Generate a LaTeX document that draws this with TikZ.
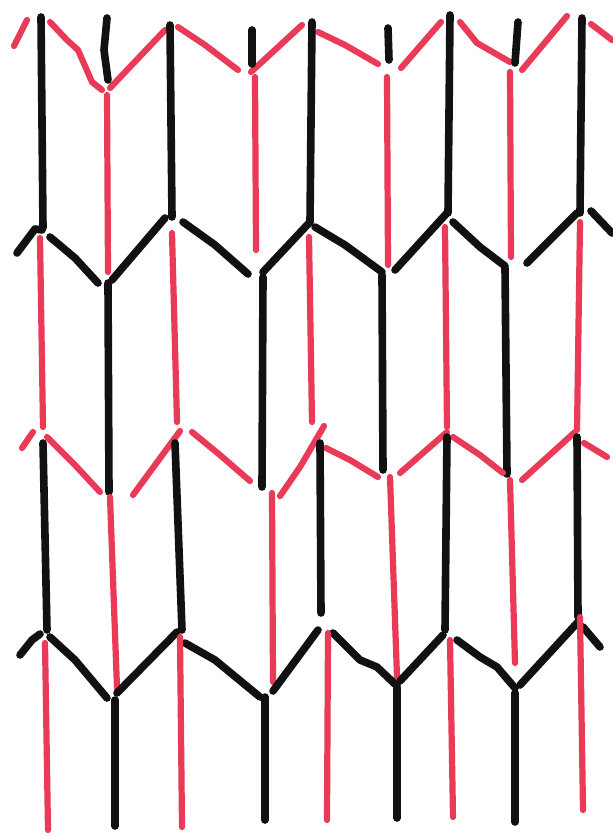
\documentclass[tikz,border=0pt]{standalone}
\usepackage{tikz}
\usepackage{xcolor}
\definecolor{strandRed}{HTML}{E93A58}
\definecolor{strandBlack}{HTML}{111111}
\tikzset{
    blackstrand/.style={draw=strandBlack, line width=6.5pt, line cap=round, line join=round},
    redstrand/.style={draw=strandRed, line width=5.3pt, line cap=round, line join=round}
}

\begin{document}
\begin{tikzpicture}[x=0.03cm,y=-0.03cm]
    \useasboundingbox (0,0) rectangle (612,838);

    % Row 1: red zigzag on top
    \draw[redstrand] (14,46) -- (27,20);
    \draw[redstrand] (50,22) -- (67,40) -- (78,50) -- (92,82) -- (102,90);
    \draw[redstrand] (110,88) -- (165,30);
    \draw[redstrand] (178,27) -- (205,45) -- (238,70);
    \draw[redstrand] (251,72) -- (302,25);
    \draw[redstrand] (318,32) -- (345,45) -- (378,64);
    \draw[redstrand] (401,68) -- (441,22);
    \draw[redstrand] (460,22) -- (477,43) -- (510,62);
    \draw[redstrand] (522,70) -- (567,16);
    \draw[redstrand] (591,24) -- (612,40);

    % black stubs above the red tips
    \draw[blackstrand] (107,18) -- (104,50) -- (108,80);
    \draw[blackstrand] (252,30) -- (252,64);
    \draw[blackstrand] (388,28) -- (389,60);
    \draw[blackstrand] (518,22) -- (515,63);

    % Row 1 verticals
    \draw[blackstrand] (41,17) -- (43,228);
    \draw[blackstrand] (170,25) -- (172,217);
    \draw[blackstrand] (312,22) -- (310,222);
    \draw[blackstrand] (450,15) -- (448,213);
    \draw[blackstrand] (582,18) -- (580,213);
    \draw[redstrand] (107,95) -- (108,272);
    \draw[redstrand] (255,77) -- (256,250);
    \draw[redstrand] (387,77) -- (388,265);
    \draw[redstrand] (510,72) -- (511,257);

    % Row 2: black zigzag
    \draw[blackstrand] (17,253) -- (35,229) -- (42,230);
    \draw[blackstrand] (50,237) -- (75,258) -- (98,283);
    \draw[blackstrand] (112,280) -- (165,218);
    \draw[blackstrand] (183,222) -- (215,245) -- (248,274);
    \draw[blackstrand] (263,272) -- (310,222);
    \draw[blackstrand] (315,227) -- (345,245) -- (382,272);
    \draw[blackstrand] (395,270) -- (447,213);
    \draw[blackstrand] (453,222) -- (480,247) -- (505,266);
    \draw[blackstrand] (527,263) -- (577,213);
    \draw[blackstrand] (591,211) -- (612,233);

    % Row 2 verticals
    \draw[blackstrand] (108,283) -- (109,492);
    \draw[blackstrand] (263,277) -- (262,487);
    \draw[blackstrand] (382,275) -- (383,470);
    \draw[blackstrand] (505,268) -- (507,474);
    \draw[redstrand] (40,238) -- (43,427);
    \draw[redstrand] (172,233) -- (177,422);
    \draw[redstrand] (309,237) -- (312,422);
    \draw[redstrand] (445,227) -- (447,427);
    \draw[redstrand] (580,222) -- (577,430);

    % Row 3: red zigzag
    \draw[redstrand] (22,448) -- (33,432);
    \draw[redstrand] (47,437) -- (75,465) -- (100,492);
    \draw[redstrand] (133,495) -- (180,431);
    \draw[redstrand] (192,432) -- (220,455) -- (250,481);
    \draw[redstrand] (280,496) -- (300,467) -- (324,426);
    \draw[redstrand] (326,448) -- (350,460) -- (378,477);
    \draw[redstrand] (400,473) -- (447,432);
    \draw[redstrand] (453,437) -- (480,455) -- (503,473);
    \draw[redstrand] (522,480) -- (575,432);
    \draw[redstrand] (584,443) -- (607,457);

    % Row 3 verticals
    \draw[blackstrand] (43,443) -- (47,630);
    \draw[blackstrand] (175,443) -- (182,630);
    \draw[blackstrand] (320,443) -- (321,613);
    \draw[blackstrand] (447,437) -- (445,630);
    \draw[blackstrand] (577,437) -- (578,617);
    \draw[redstrand] (110,497) -- (117,688);
    \draw[redstrand] (272,493) -- (273,682);
    \draw[redstrand] (390,477) -- (397,677);
    \draw[redstrand] (510,480) -- (515,663);

    % Row 4: black zigzag
    \draw[blackstrand] (20,655) -- (32,640) -- (40,634);
    \draw[blackstrand] (50,637) -- (75,660) -- (107,698);
    \draw[blackstrand] (117,693) -- (177,632);
    \draw[blackstrand] (185,643) -- (215,660) -- (260,697);
    \draw[blackstrand] (273,691) -- (318,630);
    \draw[blackstrand] (333,633) -- (360,660) -- (377,667) -- (397,686);
    \draw[blackstrand] (400,681) -- (443,635);
    \draw[blackstrand] (457,640) -- (480,657) -- (497,667) -- (515,688);
    \draw[blackstrand] (520,685) -- (578,622);
    \draw[blackstrand] (583,627) -- (600,647);

    % Row 4 verticals
    \draw[blackstrand] (115,700) -- (115,826);
    \draw[blackstrand] (265,697) -- (265,820);
    \draw[blackstrand] (397,688) -- (397,818);
    \draw[blackstrand] (515,693) -- (515,822);
    \draw[redstrand] (45,643) -- (48,830);
    \draw[redstrand] (180,637) -- (182,827);
    \draw[redstrand] (328,633) -- (327,820);
    \draw[redstrand] (450,640) -- (453,817);
    \draw[redstrand] (580,617) -- (583,810);
\end{tikzpicture}
\end{document}
